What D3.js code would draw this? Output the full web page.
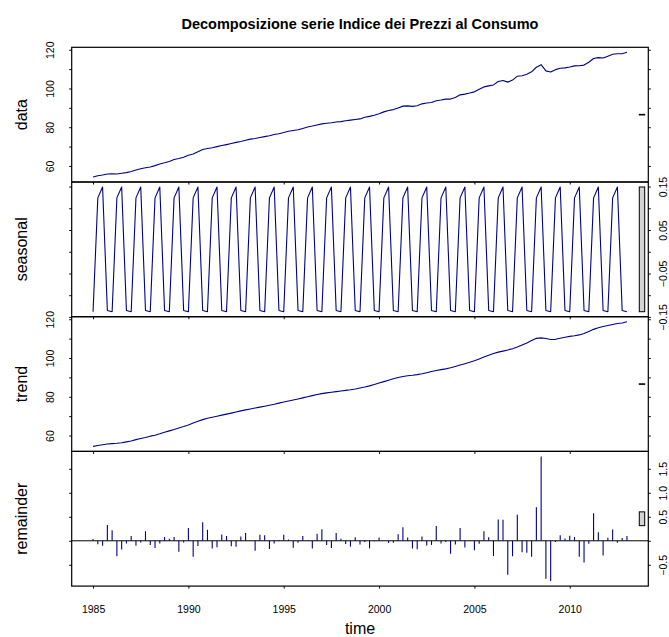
<!DOCTYPE html>
<html>
<head>
<meta charset="utf-8">
<script src="https://cdn.jsdelivr.net/npm/d3@7"></script>
<style>
  body { margin: 0; background: #fff; }
  svg { display: block; }
  text { font-family: "Liberation Sans", Arial, Helvetica, sans-serif; fill: #000; }
</style>
</head>
<body>
<svg id="chart" width="669" height="637"></svg>
<script>
// Quarterly series, 1985 Q1 .. 2013 Q1
const startYear = 1985;
const periodsPerYear = 4;

const dataValues = [
  54.28, 54.94, 55.30, 55.81,
  55.91, 55.81, 56.22, 56.53,
  57.14, 57.91, 58.58, 59.09,
  59.45, 60.16, 60.98, 61.60,
  62.31, 63.34, 63.85, 64.46,
  65.54, 66.21, 67.38, 68.46,
  69.02, 69.43, 69.99, 70.51,
  71.02, 71.58, 72.15, 72.66,
  73.27, 73.84, 74.14, 74.65,
  75.12, 75.58, 76.24, 76.60,
  77.27, 77.93, 78.29, 78.65,
  79.37, 80.13, 80.59, 81.16,
  81.72, 82.03, 82.33, 82.69,
  82.90, 83.36, 83.67, 83.97,
  84.28, 85.10, 85.61, 86.17,
  86.99, 87.92, 88.63, 89.09,
  89.96, 90.89, 91.04, 90.78,
  91.09, 92.06, 92.47, 92.78,
  93.70, 94.06, 94.52, 94.52,
  95.39, 96.72, 97.08, 97.64,
  98.26, 99.59, 100.82, 101.33,
  101.84, 103.58, 104.15, 103.28,
  104.35, 106.35, 106.61, 107.37,
  108.60, 110.96, 112.29, 109.11,
  108.55, 109.73, 110.45, 110.65,
  111.11, 111.67, 111.73, 112.08,
  113.52, 115.46, 115.92, 115.77,
  116.69, 117.67, 117.92, 117.97,
  118.69
];

const seasonalValues = [
  -0.138, 0.124, 0.149, -0.135,  -0.138, 0.124, 0.149, -0.135,
  -0.138, 0.124, 0.149, -0.135,  -0.138, 0.124, 0.149, -0.135,
  -0.138, 0.124, 0.149, -0.135,  -0.138, 0.124, 0.149, -0.135,
  -0.138, 0.124, 0.149, -0.135,  -0.138, 0.124, 0.149, -0.135,
  -0.138, 0.124, 0.149, -0.135,  -0.138, 0.124, 0.149, -0.135,
  -0.138, 0.124, 0.149, -0.135,  -0.138, 0.124, 0.149, -0.135,
  -0.138, 0.124, 0.149, -0.135,  -0.138, 0.124, 0.149, -0.135,
  -0.138, 0.124, 0.149, -0.135,  -0.138, 0.124, 0.149, -0.135,
  -0.138, 0.124, 0.149, -0.135,  -0.138, 0.124, 0.149, -0.135,
  -0.138, 0.124, 0.149, -0.135,  -0.138, 0.124, 0.149, -0.135,
  -0.138, 0.124, 0.149, -0.135,  -0.138, 0.124, 0.149, -0.135,
  -0.138, 0.124, 0.149, -0.135,  -0.138, 0.124, 0.149, -0.135,
  -0.138, 0.124, 0.149, -0.135,  -0.138, 0.124, 0.149, -0.135,
  -0.138, 0.124, 0.149, -0.135,  -0.138, 0.124, 0.149, -0.135,
  -0.138
];

const trendValues = [
  54.39, 54.89, 55.26, 55.62,
  55.83, 56.01, 56.25, 56.73,
  57.18, 57.90, 58.47, 59.03,
  59.68, 60.19, 60.89, 61.66,
  62.41, 63.14, 63.93, 64.64,
  65.42, 66.43, 67.34, 68.21,
  68.93, 69.47, 69.98, 70.52,
  71.06, 71.57, 72.12, 72.71,
  73.25, 73.73, 74.20, 74.67,
  75.15, 75.63, 76.14, 76.72,
  77.28, 77.78, 78.29, 78.83,
  79.41, 80.00, 80.60, 81.16,
  81.62, 82.00, 82.33, 82.67,
  83.00, 83.31, 83.64, 84.04,
  84.50, 85.01, 85.62, 86.32,
  87.06, 87.80, 88.53, 89.27,
  89.97, 90.49, 90.82, 91.08,
  91.41, 91.85, 92.42, 93.01,
  93.53, 93.99, 94.40, 94.93,
  95.61, 96.34, 97.07, 97.77,
  98.60, 99.53, 100.47, 101.40,
  102.30, 103.02, 103.56, 104.13,
  104.81, 105.69, 106.70, 107.76,
  109.08, 110.14, 110.38, 110.04,
  109.53, 109.63, 110.18, 110.74,
  111.15, 111.47, 111.91, 112.67,
  113.72, 114.77, 115.59, 116.22,
  116.77, 117.31, 117.81, 118.05,
  118.73
];

const remainderValues = [
  0.035, -0.070, -0.105, 0.330,
  0.220, -0.320, -0.180, -0.056,
  0.100, -0.105, -0.035, 0.200,
  -0.090, -0.150, -0.056, 0.077,
  0.040, 0.077, -0.230, -0.035,
  0.265, -0.335, -0.110, 0.387,
  0.230, -0.160, -0.136, 0.130,
  0.102, -0.114, -0.124, 0.091,
  0.160, -0.005, -0.205, 0.124,
  0.113, -0.171, -0.054, 0.016,
  0.128, 0.027, -0.146, -0.042,
  0.100, 0.011, -0.159, 0.145,
  0.241, -0.087, -0.151, 0.164,
  0.041, -0.066, -0.121, 0.072,
  -0.078, -0.026, -0.158, -0.008,
  0.070, 0.003, -0.045, -0.042,
  0.134, 0.280, 0.068, -0.159,
  -0.177, 0.088, -0.099, -0.086,
  0.309, -0.054, -0.027, -0.270,
  -0.075, 0.265, -0.140, 0.008,
  -0.195, -0.064, 0.198, 0.075,
  -0.319, 0.444, 0.440, -0.707,
  -0.320, 0.540, -0.241, -0.251,
  -0.335, 0.697, 1.758, -0.790,
  -0.840, -0.023, 0.117, 0.050,
  0.103, 0.078, -0.331, -0.450,
  -0.064, 0.575, 0.179, -0.307,
  0.063, 0.236, -0.043, 0.060,
  0.100
];

const panelLabels = ["data", "seasonal", "trend", "remainder"];
const xTickValues = [1985, 1990, 1995, 2000, 2005, 2010];
const dataTicks = [60, 70, 80, 90, 100, 110, 120];
const dataTickLabels = [60, 80, 100, 120];
const seasonalTicks = [-0.15, -0.10, -0.05, 0, 0.05, 0.10, 0.15];
const seasonalTickLabels = [-0.15, -0.05, 0.05, 0.15];
const trendTicks = [60, 70, 80, 90, 100, 110, 120];
const trendTickLabels = [60, 80, 100, 120];
const remainderTicks = [-0.5, 0, 0.5, 1.0, 1.5];
const remainderTickLabels = [-0.5, 0.5, 1.0, 1.5];

const mainTitle = "Decomposizione serie Indice dei Prezzi al Consumo";
const xTitle = "time";

// ---- layout ----
const svg = d3.select("#chart");
const plotLeft = 71.7, plotRight = 648.3;
const panelTop = 47.3, panelH = 134.7;
const lineColor = "#00008B";
const tickLen = 2.5;

const times = dataValues.map((_, i) => startYear + i / periodsPerYear);

// 4% extension of each axis range
function padded(ext) {
  const d = (ext[1] - ext[0]) * 0.04;
  return [ext[0] - d, ext[1] + d];
}

const x = d3.scaleLinear()
  .domain(padded(d3.extent(times)))
  .range([plotLeft, plotRight]);

const panels = [
  { label: panelLabels[0], values: dataValues, ticks: dataTicks, labels: dataTickLabels, fmt: d3.format("d"), labelSide: "left", type: "line" },
  { label: panelLabels[1], values: seasonalValues, ticks: seasonalTicks, labels: seasonalTickLabels, fmt: d3.format(".2f"), labelSide: "right", type: "line" },
  { label: panelLabels[2], values: trendValues, ticks: trendTicks, labels: trendTickLabels, fmt: d3.format("d"), labelSide: "left", type: "line" },
  { label: panelLabels[3], values: remainderValues, ticks: remainderTicks, labels: remainderTickLabels, fmt: d3.format(".1f"), labelSide: "right", type: "bars" }
];

// height of the range bars: the smallest component range
const rangeBarSize = d3.min(panels, p => { const e = d3.extent(p.values); return e[1] - e[0]; });
const barDx = (plotRight - plotLeft) / 64;

panels.forEach((p, k) => {
  const top = panelTop + k * panelH;
  const bottom = top + panelH;
  const ext = d3.extent(p.values);
  const y = d3.scaleLinear().domain(padded(ext)).range([bottom, top]);
  const g = svg.append("g");

  g.append("clipPath").attr("id", "plotclip" + k)
    .append("rect").attr("x", plotLeft).attr("y", top)
    .attr("width", plotRight - plotLeft).attr("height", panelH);

  const body = g.append("g").attr("clip-path", `url(#plotclip${k})`);

  if (p.type === "line") {
    body.append("path")
      .datum(p.values)
      .attr("fill", "none")
      .attr("stroke", lineColor)
      .attr("stroke-width", 1.1)
      .attr("stroke-linejoin", "round")
      .attr("d", d3.line().x((d, i) => x(times[i])).y(d => y(d)));
  } else {
    body.append("line")
      .attr("x1", plotLeft).attr("x2", plotRight)
      .attr("y1", y(0)).attr("y2", y(0))
      .attr("stroke", "#000").attr("stroke-width", 1);
    body.selectAll("line.bar")
      .data(p.values)
      .join("line")
      .attr("class", "bar")
      .attr("x1", (d, i) => x(times[i])).attr("x2", (d, i) => x(times[i]))
      .attr("y1", y(0)).attr("y2", d => y(d))
      .attr("stroke", lineColor).attr("stroke-width", 1.1);
  }

  // range bar
  const mid = (ext[0] + ext[1]) / 2;
  g.append("rect")
    .attr("x", plotRight - barDx)
    .attr("width", 0.6 * barDx)
    .attr("y", y(mid + rangeBarSize / 2))
    .attr("height", Math.max(0.6, y(mid - rangeBarSize / 2) - y(mid + rangeBarSize / 2)))
    .attr("fill", "#d3d3d3")
    .attr("stroke", "#000")
    .attr("stroke-width", 1);

  // left and right axes
  const fmtFor = side => d => (p.labelSide === side && p.labels.some(v => Math.abs(v - d) < 1e-9)) ? p.fmt(d) : "";

  const left = g.append("g").attr("transform", `translate(${plotLeft},0)`)
    .call(d3.axisLeft(y).tickValues(p.ticks).tickSize(tickLen).tickPadding(0).tickFormat(fmtFor("left")));
  const right = g.append("g").attr("transform", `translate(${plotRight},0)`)
    .call(d3.axisRight(y).tickValues(p.ticks).tickSize(tickLen).tickPadding(0).tickFormat(fmtFor("right")));

  [left, right].forEach((ax, j) => {
    ax.select(".domain").remove();
    ax.selectAll(".tick line").attr("stroke", "#000").attr("stroke-width", 1);
    ax.selectAll(".tick text")
      .attr("x", null).attr("dy", null)
      .attr("text-anchor", "middle")
      .attr("font-size", "10.5px")
      .attr("transform", j === 0 ? "translate(-17.7,0) rotate(-90)" : "translate(18.4,0) rotate(-90)");
  });

  // bottom ticks on every panel, labels only on the last one
  const last = k === panels.length - 1;
  const bx = g.append("g").attr("transform", `translate(0,${bottom})`)
    .call(d3.axisBottom(x).tickValues(xTickValues).tickSize(tickLen).tickFormat(last ? d3.format("d") : () => ""));
  bx.select(".domain").remove();
  bx.selectAll(".tick line").attr("stroke", "#000");
  bx.selectAll(".tick text").attr("y", 27).attr("dy", null).attr("font-size", "10.5px");

  // frame
  g.append("rect")
    .attr("x", plotLeft).attr("y", top)
    .attr("width", plotRight - plotLeft).attr("height", panelH)
    .attr("fill", "none").attr("stroke", "#000").attr("stroke-width", 1.2);

  // panel label
  g.append("text")
    .attr("transform", `translate(26.7,${top + panelH / 2}) rotate(-90)`)
    .attr("text-anchor", "middle")
    .attr("font-size", "16px")
    .text(p.label);
});

svg.append("text")
  .attr("x", (plotLeft + plotRight) / 2).attr("y", 28.5)
  .attr("text-anchor", "middle")
  .attr("font-size", "14.5px").attr("font-weight", "bold")
  .text(mainTitle);

svg.append("text")
  .attr("x", (plotLeft + plotRight) / 2).attr("y", 634)
  .attr("text-anchor", "middle")
  .attr("font-size", "16px")
  .text(xTitle);
</script>
</body>
</html>
